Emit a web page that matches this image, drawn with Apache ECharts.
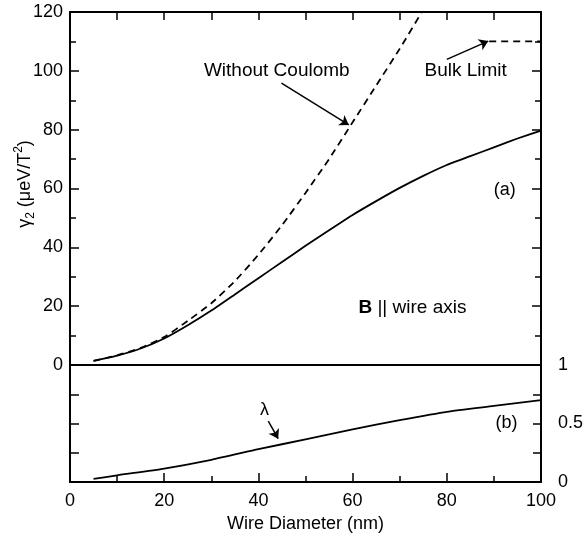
<!DOCTYPE html>
<html>
<head>
<meta charset="utf-8">
<script src="https://cdn.jsdelivr.net/npm/echarts@6/dist/echarts.min.js"></script>
<style>
  html, body { margin: 0; padding: 0; background: #fff; }
  #chart { width: 587px; height: 537px; }
</style>
</head>
<body>
<div id="chart"></div>
<script>
// wire diameter (nm)
const diam = [5, 10, 15, 20, 25, 30, 35, 40, 45, 50, 55, 60, 65, 70, 75, 80, 85, 90, 95, 100];
// gamma2 with Coulomb (solid)
const gammaCoulomb = [1.4, 3.2, 5.6, 9, 13.5, 18.5, 24, 29.5, 35, 40.5, 45.8, 51, 55.7, 60.2, 64.3, 68, 71, 74, 77, 79.7];
// gamma2 without Coulomb (dashed)
const diamNoC = [5, 10, 15, 20, 25, 30, 35, 40, 45, 50, 55, 60, 65, 70, 74.7];
const gammaNoC = [1.4, 3.3, 5.8, 9.5, 15, 21, 28.5, 37.5, 47.5, 58.5, 70, 82.5, 95, 107.5, 120];
// bulk limit
const bulkX = [89, 100];
const bulkY = [110, 110];
// lambda (lower panel)
const diamL = [5, 10, 20, 30, 40, 50, 60, 70, 80, 90, 100];
const lambda = [0.026, 0.057, 0.115, 0.19, 0.28, 0.365, 0.45, 0.528, 0.6, 0.65, 0.7];
// tick labels
const xTicks = [0, 20, 40, 60, 80, 100];
const yTicks = [0, 20, 40, 60, 80, 100, 120];
const lTicks = [0, 0.5, 1];

const FONT = "Liberation Sans, Arial, Helvetica, sans-serif";
const pair = (xs, ys) => xs.map((x, i) => [x, ys[i]]);

const chart = echarts.init(document.getElementById("chart"));

const axisLine = { show: true, onZero: false, lineStyle: { color: "#000", width: 2 } };
const noSplit = { show: false };
const tickStyle = { color: "#000", width: 1.5 };

// text annotation helper (placed by data coords)
function note(coord, text, extra) {
  return {
    coord: coord,
    symbol: "circle",
    symbolSize: 1,
    itemStyle: { color: "rgba(0,0,0,0)" },
    label: Object.assign({
      show: true,
      position: "inside",
      formatter: text,
      color: "#000",
      fontSize: 18,
      fontFamily: FONT,
    }, extra || {}),
  };
}

function arrow(from, to) {
  return [{ coord: from }, { coord: to }];
}

const arrowLine = {
  silent: true,
  symbol: ["none", "arrow"],
  symbolSize: 9,
  label: { show: false },
  lineStyle: { color: "#000", width: 1.5, type: "solid" },
  itemStyle: { color: "#000" },
};

const option = {
  animation: false,
  backgroundColor: "#fff",
  grid: [
    { left: 70, right: 46, top: 12, height: 353 },
    { left: 70, right: 46, top: 365, height: 117 },
  ],
  xAxis: [
    {
      // top panel, bottom edge (divider line)
      type: "value", gridIndex: 0, position: "bottom", min: 0, max: 100,
      axisLine: axisLine, axisTick: { show: false }, axisLabel: { show: false }, splitLine: noSplit,
    },
    {
      // top panel, top edge
      type: "value", gridIndex: 0, position: "top", min: 0, max: 100, interval: 10,
      axisLine: axisLine,
      axisTick: { show: true, inside: true, length: 8, lineStyle: tickStyle },
      axisLabel: { show: false }, splitLine: noSplit,
    },
    {
      // bottom panel
      type: "value", gridIndex: 1, position: "bottom", min: 0, max: 100, interval: 20,
      axisLine: axisLine,
      axisTick: { show: true, inside: true, length: 9, lineStyle: tickStyle },
      minorTick: { show: true, splitNumber: 2, length: 6, lineStyle: tickStyle },
      axisLabel: {
        color: "#000", fontSize: 18, fontFamily: FONT, margin: 10,
        formatter: (v) => (xTicks.indexOf(v) >= 0 ? String(v) : ""),
      },
      splitLine: noSplit,
      name: "Wire Diameter (nm)",
      nameLocation: "middle",
      nameGap: 33,
      nameTextStyle: { color: "#000", fontSize: 18, fontFamily: FONT },
    },
  ],
  yAxis: [
    {
      type: "value", gridIndex: 0, position: "left", min: 0, max: 120, interval: 20,
      axisLine: axisLine,
      axisTick: { show: true, inside: true, length: 9, lineStyle: tickStyle },
      minorTick: { show: true, splitNumber: 2, length: 6, lineStyle: tickStyle },
      axisLabel: {
        color: "#000", fontSize: 18, fontFamily: FONT, margin: 7,
        formatter: (v) => (yTicks.indexOf(v) >= 0 ? String(v) : ""),
      },
      splitLine: noSplit,
    },
    {
      type: "value", gridIndex: 0, position: "right", min: 0, max: 120, interval: 20,
      axisLine: axisLine,
      axisTick: { show: true, inside: true, length: 9, lineStyle: tickStyle },
      minorTick: { show: true, splitNumber: 2, length: 6, lineStyle: tickStyle },
      axisLabel: { show: false }, splitLine: noSplit,
    },
    {
      type: "value", gridIndex: 1, position: "left", min: 0, max: 1, interval: 0.25,
      axisLine: axisLine,
      axisTick: { show: true, inside: true, length: 9, lineStyle: tickStyle },
      axisLabel: { show: false }, splitLine: noSplit,
    },
    {
      type: "value", gridIndex: 1, position: "right", min: 0, max: 1, interval: 0.25,
      axisLine: axisLine,
      axisTick: { show: true, inside: true, length: 8, lineStyle: tickStyle },
      axisLabel: {
        color: "#000", fontSize: 18, fontFamily: FONT, margin: 17,
        formatter: (v) => (lTicks.indexOf(v) >= 0 ? String(v) : ""),
      },
      splitLine: noSplit,
    },
  ],
  graphic: [
    {
      type: "text",
      x: 25, y: 184,
      rotation: Math.PI / 2,
      style: {
        text: "{a|γ}{s|2}{a| (μeV/T}{p|2}{a|)}",
        align: "center",
        verticalAlign: "middle",
        fill: "#000",
        rich: {
          a: { fontSize: 18, fontFamily: FONT, lineHeight: 24, fill: "#000" },
          s: { fontSize: 12, fontFamily: FONT, lineHeight: 12, verticalAlign: "bottom", fill: "#000" },
          p: { fontSize: 12, fontFamily: FONT, lineHeight: 12, verticalAlign: "top", fill: "#000" },
        },
      },
    },
  ],
  series: [
    {
      name: "with Coulomb",
      type: "line",
      xAxisIndex: 0, yAxisIndex: 0,
      data: pair(diam, gammaCoulomb),
      showSymbol: false,
      smooth: 0.15,
      lineStyle: { color: "#000", width: 1.8 },
      markPoint: {
        silent: true,
        data: [
          note([92.3, 59.5], "(a)"),
          note([72.7, 19.4], "{b|B} || wire axis", {
            fontSize: 19,
            rich: { b: { fontWeight: "bold", fontSize: 19, fontFamily: FONT, color: "#000" } },
          }),
          note([43.9, 100.1], "Without Coulomb", { fontSize: 19 }),
          note([84, 100.1], "Bulk Limit", { fontSize: 19 }),
        ],
      },
      markLine: Object.assign({}, arrowLine, {
        data: [
          arrow([44.9, 95.8], [59.2, 81.6]),
          arrow([80, 103.9], [88.8, 110.1]),
        ],
      }),
    },
    {
      name: "without Coulomb",
      type: "line",
      xAxisIndex: 0, yAxisIndex: 0,
      data: pair(diamNoC, gammaNoC),
      showSymbol: false,
      smooth: 0.2,
      lineStyle: { color: "#000", width: 1.8, type: [7, 5] },
    },
    {
      name: "bulk limit",
      type: "line",
      xAxisIndex: 0, yAxisIndex: 0,
      data: pair(bulkX, bulkY),
      showSymbol: false,
      lineStyle: { color: "#000", width: 1.8, type: [7, 5] },
    },
    {
      name: "lambda",
      type: "line",
      xAxisIndex: 2, yAxisIndex: 3,
      data: pair(diamL, lambda),
      showSymbol: false,
      smooth: 0.2,
      lineStyle: { color: "#000", width: 1.8 },
      markPoint: {
        silent: true,
        data: [
          note([92.7, 0.5], "(b)"),
          note([41.3, 0.615], "λ"),
        ],
      },
      markLine: Object.assign({}, arrowLine, {
        data: [arrow([42.1, 0.52], [44.2, 0.37])],
      }),
    },
  ],
};

chart.setOption(option);
</script>
</body>
</html>
